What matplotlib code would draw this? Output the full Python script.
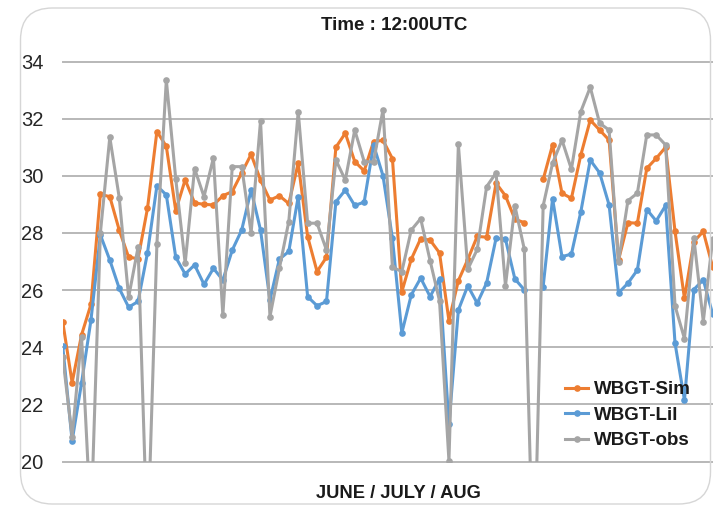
import numpy as np
import matplotlib
matplotlib.use("Agg")
from matplotlib import pyplot as plt
from matplotlib.patches import FancyBboxPatch
from matplotlib.transforms import IdentityTransform

plt.rcParams['font.family'] = ['Liberation Sans', 'DejaVu Sans']

# daily values at 12:00 UTC (index = day counted from 1 June)
title = "Time : 12:00UTC"
xlabel = "JUNE / JULY / AUG"
series_names = ["WBGT-Sim", "WBGT-Lil", "WBGT-obs"]
y_ticks = [20, 22, 24, 26, 28, 30, 32, 34]

wbgt_sim = [24.9, 22.76, 24.43, 25.5, 29.35, 29.27, 28.1, 27.15, 27.1, 28.86,
            31.55, 31.03, 28.78, 29.86, 29.05, 29.0, 28.98, 29.3, 29.45, 30.1,
            30.75, 29.85, 29.15, 29.3, 29.03, 30.44, 27.87, 26.65, 27.15, 31.0,
            31.49, 30.5, 30.17, 31.2, 31.24, 30.6, 25.94, 27.08, 27.8, 27.75,
            27.3, 24.93, 26.33, 27.07, 27.88, 27.85, 29.74, 29.3, 28.48, 28.36,
            np.nan, 29.87, 31.08, 29.39, 29.21, 30.73, 31.95, 31.6, 31.25, 27.05,
            28.36, 28.34, 30.26, 30.61, 31.0, 28.05, 25.71, 27.7, 28.05, 26.8]

wbgt_lil = [24.04, 20.72, 22.75, 24.95, 27.93, 27.05, 26.06, 25.4, 25.6, 27.3,
            29.65, 29.33, 27.15, 26.56, 26.88, 26.2, 26.76, 26.35, 27.4, 28.1,
            29.5, 28.1, 25.65, 27.08, 27.35, 29.27, 25.77, 25.45, 25.6, 29.09,
            29.5, 28.96, 29.08, 31.08, 30.0, 27.81, 24.5, 25.83, 26.42, 25.77,
            26.4, 21.3, 25.3, 26.15, 25.54, 26.25, 27.81, 27.78, 26.39, 26.01,
            np.nan, 26.12, 29.2, 27.17, 27.26, 28.74, 30.55, 30.1, 28.98, 25.9,
            26.24, 26.7, 28.82, 28.42, 28.96, 24.14, 22.15, 26.02, 26.36, 25.15]

wbgt_obs = [23.67, 20.87, 24.37, 17.8, 28.0, 31.35, 29.24, 25.75, 27.5, 17.0,
            27.62, 33.35, 29.89, 26.94, 30.25, 29.27, 30.63, 25.12, 30.32, 30.32,
            28.0, 31.92, 25.07, 26.76, 28.4, 32.25, 28.34, 28.34, 27.4, 30.55,
            29.85, 31.6, 30.5, 30.48, 32.32, 26.8, 26.65, 28.1, 28.5, 27.03,
            25.62, 20.02, 31.1, 26.73, 27.42, 29.62, 30.1, 26.15, 28.95, 27.43,
            15.5, 28.95, 30.44, 31.25, 30.23, 32.25, 33.1, 31.84, 31.6, 27.0,
            29.13, 29.39, 31.43, 31.43, 31.08, 25.45, 24.3, 27.81, 24.9, 27.8]

colors = ["#ED7D31", "#5B9BD5", "#A5A5A5"]

W, H = 713, 507
fig = plt.figure(figsize=(W / 100, H / 100), dpi=100)
fig.patch.set_facecolor("white")

# rounded chart frame
frame = FancyBboxPatch((20.5, 3), 690, 496, boxstyle="round,pad=0,rounding_size=32",
                       transform=IdentityTransform(), facecolor="none",
                       edgecolor="#D6D6D6", linewidth=1.0)
fig.add_artist(frame)

left_px, bottom_px, top_px = 62.7, 461.5, 61.5
ax = fig.add_axes([left_px / W, (H - bottom_px) / H, (W - left_px) / W, (bottom_px - top_px) / H])
ax.set_facecolor("none")

days = np.arange(len(wbgt_sim))
for vals, name, c in zip([wbgt_sim, wbgt_lil, wbgt_obs], series_names, colors):
    ax.plot(days, vals, color=c, lw=2.2, marker="o", markersize=4.8,
            markeredgewidth=0, label=name, zorder=3)

ax.set_xlim(0, 69.03)
ax.set_ylim(20, 34)
ax.set_xticks([])
ax.set_yticks(y_ticks)
ax.set_yticklabels([str(t) for t in y_ticks], fontsize=14.5, color="#262626")
ax.tick_params(axis="y", length=0, pad=14)
ax.grid(axis="y", color="#B8B8B8", lw=1.4, zorder=0)
for gl in ax.get_ygridlines():
    gl.set_clip_on(False)
for s in ax.spines.values():
    s.set_visible(False)

fig.text(394 / W, (H - 26) / H, title, ha="center", va="center",
         fontsize=13.5, fontweight="bold", color="#1a1a1a")
fig.text(398 / W, (H - 493) / H, xlabel, ha="center", va="center",
         fontsize=13.2, fontweight="bold", color="#1a1a1a")

leg = fig.legend(loc="upper left", bbox_to_anchor=(556 / W, (H - 372) / H),
                 frameon=False, borderpad=0, handlelength=1.2, handletextpad=0.3,
                 labelspacing=0.44, prop={"weight": "bold", "size": 13.5})
for t in leg.get_texts():
    t.set_color("#1a1a1a")

fig.savefig("out.png", dpi=100)
